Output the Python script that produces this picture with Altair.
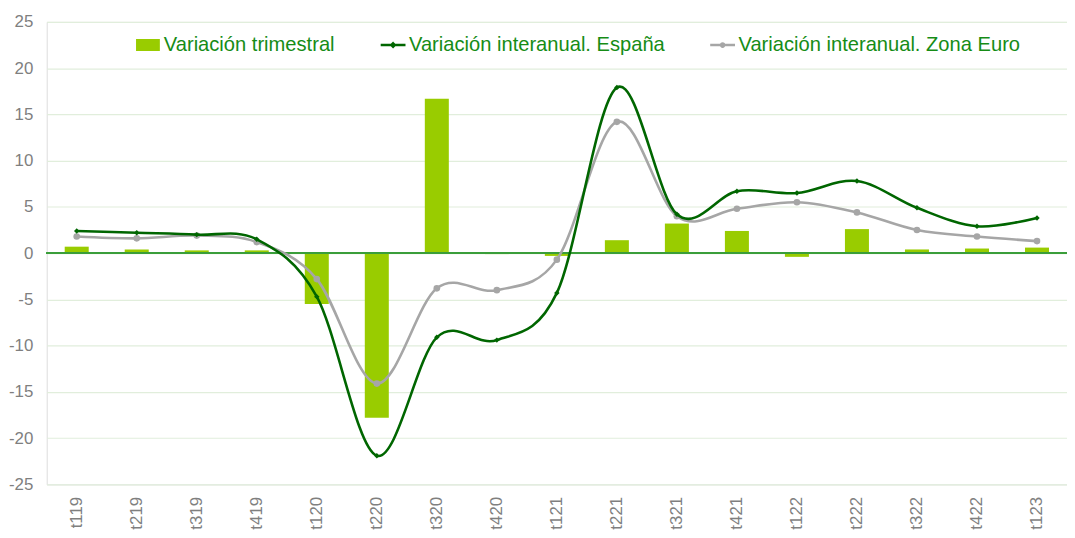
import altair as alt
import pandas as pd

categorias = ["t119", "t219", "t319", "t419", "t120", "t220", "t320", "t420", "t121",
              "t221", "t321", "t421", "t122", "t222", "t322", "t422", "t123"]
trimestral = [0.7, 0.4, 0.3, 0.3, -5.5, -17.8, 16.7, -0.1, -0.3,
              1.4, 3.2, 2.4, -0.4, 2.6, 0.4, 0.5, 0.6]
espana = [2.4, 2.2, 2.0, 1.5, -4.7, -21.9, -9.1, -9.4, -4.3,
          17.9, 4.2, 6.7, 6.5, 7.8, 4.9, 2.9, 3.8]
euro = [1.8, 1.6, 1.9, 1.2, -2.8, -14.1, -3.8, -4.0, -0.7,
        14.2, 4.0, 4.8, 5.5, 4.4, 2.5, 1.8, 1.3]

S_TRIM = "Variación trimestral"
S_ESP = "Variación interanual. España"
S_EUR = "Variación interanual. Zona Euro"
series = [S_TRIM, S_ESP, S_EUR]
colores = ["#99CC00", "#006600", "#A6A6A6"]
simbolos = [
    "M-0.86,-0.38H0.86V0.38H-0.86Z",
    "M-1,0H1M0,-0.14L0.14,0L0,0.14L-0.14,0Z",
    "M-1,0H1M0.13,0A0.13,0.13 0 1,1 -0.13,0A0.13,0.13 0 1,1 0.13,0Z",
]

df_bar = pd.DataFrame({"cat": categorias, "serie": S_TRIM, "valor": trimestral})
df_esp = pd.DataFrame({"cat": categorias, "serie": S_ESP, "valor": espana})
df_eur = pd.DataFrame({"cat": categorias, "serie": S_EUR, "valor": euro})
df_leg = pd.DataFrame({"serie": series})

FONT = "Liberation Sans"

x_enc = alt.X("cat:N", sort=categorias, title=None,
              scale=alt.Scale(paddingInner=0.6, paddingOuter=0.3),
              axis=alt.Axis(labelAngle=270, labelFontSize=17, labelColor="#7F7F7F",
                            labelFont=FONT, ticks=False, domain=False, grid=False,
                            labelPadding=12))
y_enc = alt.Y("valor:Q", title=None,
              scale=alt.Scale(domain=[-25, 25], nice=False, zero=False),
              axis=alt.Axis(values=list(range(-25, 30, 5)), labelFontSize=17,
                            labelColor="#7F7F7F", labelFont=FONT, ticks=False,
                            labelExpr="toString(datum.value)",
                            domain=False, grid=True, gridColor="#E1EEDC",
                            gridWidth=1.2, labelPadding=14))

legend = alt.Legend(
    orient="none", legendX=88, legendY=9, direction="horizontal", title=None,
    symbolSize=625, labelFontSize=20.3, labelFont=FONT, labelColor="#168C16",
    labelOffset=2, columnPadding=40, padding=0, symbolStrokeWidth=2.5,
    symbolOpacity=1, labelLimit=0,
)

color_scale = alt.Scale(domain=series, range=colores)
color_enc = alt.Color("serie:N", scale=color_scale, legend=legend)

bars = alt.Chart(df_bar).mark_bar().encode(x=x_enc, y=y_enc, color=color_enc)

zero = alt.Chart(df_bar).mark_rule(color="#3A9E3A", strokeWidth=1.5).encode(
    y=alt.datum(0))

line_esp = alt.Chart(df_esp).mark_line(interpolate="cardinal", tension=0,
                                       strokeWidth=2.6).encode(
    x=x_enc, y=y_enc, color=color_enc)
pts_esp = alt.Chart(df_esp).mark_point(shape="diamond", filled=True, size=30,
                                       opacity=1).encode(
    x=x_enc, y=y_enc, color=color_enc)

line_eur = alt.Chart(df_eur).mark_line(interpolate="cardinal", tension=0,
                                       strokeWidth=2.6).encode(
    x=x_enc, y=y_enc, color=color_enc)
pts_eur = alt.Chart(df_eur).mark_point(shape="circle", filled=True, size=45,
                                       opacity=1).encode(
    x=x_enc, y=y_enc, color=color_enc)

leg_layer = alt.Chart(df_leg).mark_point(filled=True).encode(
    x=alt.value(-500), y=alt.value(-500),
    color=color_enc,
    shape=alt.Shape("serie:N", scale=alt.Scale(domain=series, range=simbolos),
                    legend=legend),
)

chart = alt.layer(bars, zero, line_eur, pts_eur, line_esp, pts_esp, leg_layer).properties(
    width=1028, height=466,
    autosize=alt.AutoSizeParams(type="none"),
    padding={"left": 39, "top": 12, "right": 0, "bottom": 52},
).configure_view(stroke=None).configure(background="white")

chart.save("out.html", embed_options={"renderer": "svg", "actions": False})
